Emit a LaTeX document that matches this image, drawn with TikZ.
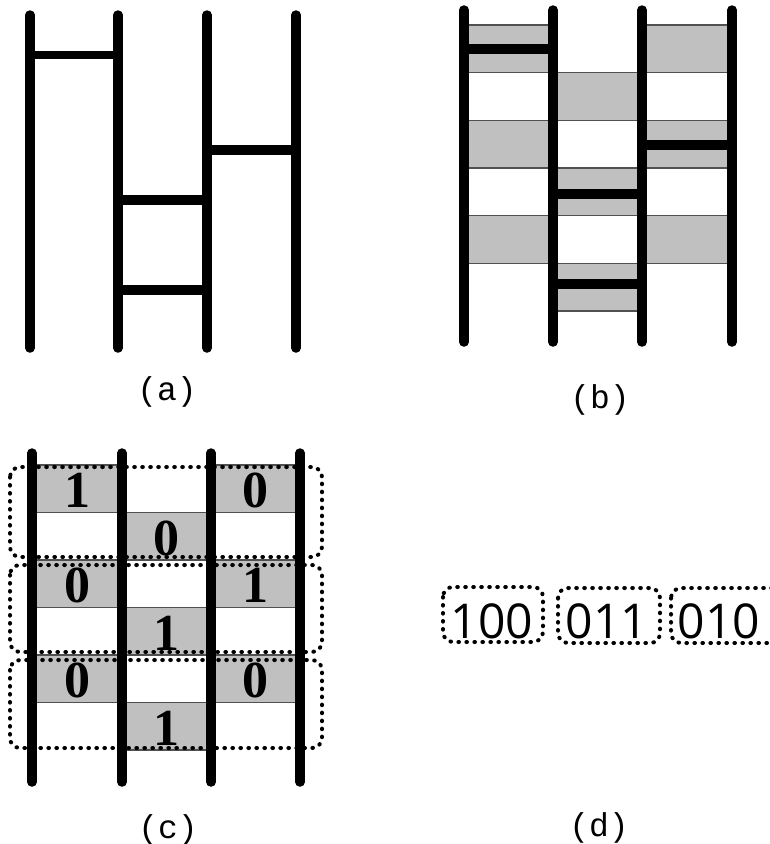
\documentclass[tikz,border=0pt]{standalone}
\usepackage{fontspec}
\newfontfamily\labelfont{Liberation Mono}
\newfontfamily\bitfont{Liberation Serif}
\newfontfamily\wordfont{Open Sans}
\definecolor{cellgray}{HTML}{C0C0C0}
\definecolor{edgegray}{HTML}{505050}
\begin{document}
\begin{tikzpicture}[x=1pt,y=-1pt,
  rail/.style={line width=9.5pt,line cap=round},
  rung/.style={line width=9.5pt},
  cell/.style={fill=cellgray,draw=edgegray,line width=1.2pt},
  dotbox/.style={line width=4pt,line cap=round,dash pattern=on 0.6pt off 7.4pt,rounded corners=10pt},
  caption/.style={font=\labelfont\fontsize{33}{33}\selectfont,inner sep=0},
  bit/.style={font=\bitfont\bfseries\fontsize{52}{52}\selectfont,anchor=base,inner sep=0},
  word/.style={font=\wordfont\fontsize{48}{48}\selectfont,anchor=base,inner sep=0}]
\useasboundingbox (0,0) rectangle (770,844);

% ---------- (a) plain ladder ----------
\draw[line width=8pt] (30,55) -- (118,55);
\draw[rung] (207,150) -- (296,150);
\draw[rung] (118,200) -- (207,200);
\draw[rung] (118,290) -- (207,290);
\foreach \x in {30,118,207,296} \draw[rail] (\x,15) -- (\x,348);
\node[caption] (capa) at (167,392) {(a)};

% ---------- (b) ladder with shaded cells ----------
\foreach \r in {0,2,4} {
  \draw[cell] (464,{25+47.67*\r}) rectangle (553,{25+47.67*(\r+1)});
  \draw[cell] (642,{25+47.67*\r}) rectangle (732,{25+47.67*(\r+1)});
}
\foreach \r in {1,3,5}
  \draw[cell] (553,{25+47.67*\r}) rectangle (642,{25+47.67*(\r+1)});
\draw[rung] (464,49) -- (553,49);
\draw[rung] (642,145) -- (732,145);
\draw[rung] (553,194) -- (642,194);
\draw[rung] (553,284) -- (642,284);
\foreach \x in {464,553,642,732} \draw[rail] (\x,10) -- (\x,342);
\node[caption] (capb) at (600,400) {(b)};

% ---------- (c) cells labelled with bits ----------
\foreach \r/\b in {0/1,2/0,4/0} {
  \draw[cell] (32,{465+47.5*\r}) rectangle (122,{465+47.5*(\r+1)});
  \node[bit] at (77,{465+47.5*(\r+1)-5}) {\b};
}
\foreach \r/\b in {1/0,3/1,5/1} {
  \draw[cell] (122,{465+47.5*\r}) rectangle (211,{465+47.5*(\r+1)});
  \node[bit] at (166.5,{465+47.5*(\r+1)-5}) {\b};
}
\foreach \r/\b in {0/0,2/1,4/0} {
  \draw[cell] (211,{465+47.5*\r}) rectangle (300,{465+47.5*(\r+1)});
  \node[bit] at (255.5,{465+47.5*(\r+1)-5}) {\b};
}
\draw[dotbox] (10,467) rectangle (322,557);
\draw[dotbox] (10,565) rectangle (322,652);
\draw[dotbox] (10,660) rectangle (322,748);
\foreach \x in {32,122,211,300} \draw[rail] (\x,453) -- (\x,782);
\node[caption] (capc) at (168,830) {(c)};

% ---------- (d) resulting words ----------
\node[word] (w1) at (492,638) {100};
\node[word] (w2) at (607,638) {011};
\node[word] (w3) at (719,638) {010};
\draw[dotbox] (443,587) rectangle (543,642);
\draw[dotbox] (558,588) rectangle (660,643);
\draw[dotbox] (671,588) rectangle (790,643);
\node[caption] (capd) at (599,828) {(d)};
\end{tikzpicture}
\end{document}
